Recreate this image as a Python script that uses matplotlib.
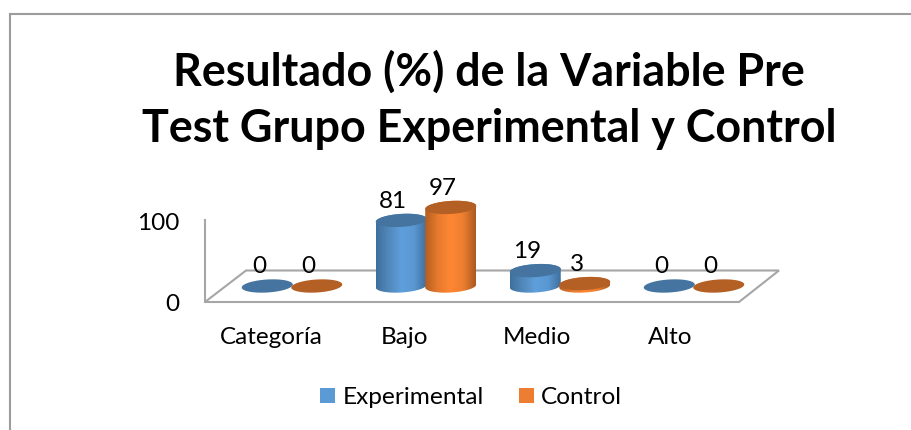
import numpy as np
import matplotlib
matplotlib.use("Agg")
import matplotlib.pyplot as plt
from matplotlib.patches import Polygon, Patch
from matplotlib.lines import Line2D

categories = ["Categoría", "Bajo", "Medio", "Alto"]
experimental = [0, 81, 19, 0]
control = [0, 97, 3, 0]
series_names = ["Experimental", "Control"]
title = "Resultado (%) de la Variable Pre\nTest Grupo Experimental y Control"

W, H = 911, 430
plt.rcParams["font.family"] = ["Lato", "DejaVu Sans"]
fig = plt.figure(figsize=(W / 100, H / 100), dpi=100)
ax = fig.add_axes([0, 0, 1, 1])

# scales: one category = 134 px, one % = 0.81 px
X0, XU, Y0, YU = 292, 134.0, 286, 0.81
ax.set_xlim(-X0 / XU, (W - X0) / XU)
ax.set_ylim((Y0 - H) / YU, Y0 / YU)
ax.axis("off")

def px(x, y):
    return (x - X0) / XU, (Y0 - y) / YU

def pline(xs, ys, **kw):
    d = [px(a, b) for a, b in zip(xs, ys)]
    ax.add_line(Line2D([p[0] for p in d], [p[1] for p in d], **kw))

GRAY = "#a6a6a6"
# chart-area frame (top and left edges)
pline([9.5, 911], [13.5, 13.5], color="#9c9c9c", lw=1.5, zorder=1)
pline([9.5, 9.5], [13.5, 430], color="#9c9c9c", lw=1.5, zorder=1)

# floor and axis wall
ax.add_patch(Polygon([px(205, 302), px(739, 302), px(779, 270.5), px(246, 270.5)],
                     closed=True, fc="white", ec=GRAY, lw=1.5, zorder=2))
pline([205, 205], [220, 302], color=GRAY, lw=1.5, zorder=2)

RX = 25.5 / XU
RY = 6.5 / YU
SHEAR = 1.5 / YU
OFFSET = 24.75 / XU
t = np.linspace(0, 2 * np.pi, 121)

def ellipse(cx, v):
    return np.column_stack([cx + RX * np.cos(t), v + RY * np.sin(t) + SHEAR * np.cos(t)])

def cylinder(cx, v, cmap_cols, top_col, z):
    if v > 0:
        tb = np.linspace(np.pi, 2 * np.pi, 61)
        lower = np.column_stack([cx + RX * np.cos(tb), RY * np.sin(tb) + SHEAR * np.cos(tb)])
        tt = np.linspace(0, np.pi, 61)
        upper = np.column_stack([cx + RX * np.cos(tt), v + RY * np.sin(tt) + SHEAR * np.cos(tt)])
        poly = Polygon(np.vstack([lower, upper]), closed=True, fc="none", ec="none",
                       transform=ax.transData, zorder=z)
        ax.add_patch(poly)
        cm = matplotlib.colors.LinearSegmentedColormap.from_list("c", cmap_cols)
        grad = np.linspace(0, 1, 128)[None, :]
        im = ax.imshow(grad, cmap=cm, aspect="auto", zorder=z,
                       extent=(cx - RX, cx + RX, -RY * 2, v + RY * 2), interpolation="bilinear")
        im.set_clip_path(poly)
    ax.add_patch(Polygon(ellipse(cx, v), closed=True, fc=top_col, ec="none", zorder=z + 0.1))

BLUE = ["#3f709d", "#5288bb", "#5f9fdc", "#5a98d2", "#3f6f9c"]
ORANGE = ["#b35e21", "#e67a2d", "#ff8733", "#ee7e30", "#ab5a20"]
TOP_B, TOP_O = "#44749f", "#b45f24"

for i, (e, c) in enumerate(zip(experimental, control)):
    cylinder(i - OFFSET, e, BLUE, TOP_B, 3 + i)
    cylinder(i + OFFSET, c, ORANGE, TOP_O, 3.5 + i)
    for cx, v in ((i - OFFSET, e), (i + OFFSET, c)):
        ax.annotate(str(v), (cx, v), xytext=(-8 * 0.72, 12.7 * 0.72), textcoords="offset points",
                    ha="center", va="baseline", fontsize=17.5, color="black", zorder=20)

for lab, xp in zip(categories, [271, 404.5, 537, 670]):
    x, y = px(xp, 344)
    ax.text(x, y, lab, ha="center", va="baseline", fontsize=17.5, color="black")
for lab, yp, xp in (("100", 230, 179), ("0", 311, 179)):
    x, y = px(xp, yp)
    ax.text(x, y, lab, ha="right", va="baseline", fontsize=17.5, color="black")

fig.text(489 / W, 1 - 100 / H, title, ha="center", va="center", fontsize=32.3,
         fontweight="bold", color="black", linespacing=1.4)

handles = [Patch(fc="#5b9bd5", ec="none"), Patch(fc="#ed7d31", ec="none")]
fig.legend(handles, series_names, loc="center", bbox_to_anchor=(471 / W, 1 - 397.5 / H), ncol=2,
           frameon=False, fontsize=17.6, handlelength=0.61, handleheight=0.61,
           handletextpad=0.3, columnspacing=1.43, borderpad=0)

fig.savefig("out.png", dpi=100, facecolor="white")
